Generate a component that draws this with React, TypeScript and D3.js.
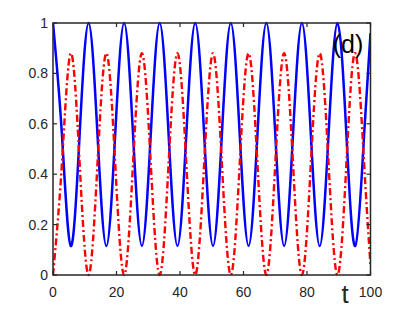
import React, { useEffect, useRef } from 'react'
import * as d3 from 'd3'

// sample times (quarter of an oscillation apart)
const times = [
  0, 2.8, 5.6, 8.4, 11.2, 14.0, 16.8, 19.6, 22.4, 25.2, 28.0, 30.8, 33.6, 36.4,
  39.2, 42.0, 44.8, 47.6, 50.4, 53.2, 56.0, 58.8, 61.6, 64.4, 67.2, 70.0, 72.8,
  75.6, 78.4, 81.2, 84.0, 86.8, 89.6, 92.4, 95.2, 98.0, 100,
]

// blue solid curve
const blueVals = [
  1, 0.56, 0.115, 0.56, 1, 0.56, 0.115, 0.56, 1, 0.56, 0.115, 0.56, 1, 0.56,
  0.115, 0.56, 1, 0.56, 0.115, 0.56, 1, 0.56, 0.115, 0.56, 1, 0.56, 0.115,
  0.56, 1, 0.56, 0.115, 0.56, 1, 0.56, 0.115, 0.56, 0.96,
]

// red dash-dot curve
const redVals = [
  0, 0.44, 0.88, 0.44, 0, 0.44, 0.88, 0.44, 0, 0.44, 0.88, 0.44, 0, 0.44,
  0.88, 0.44, 0, 0.44, 0.88, 0.44, 0, 0.44, 0.88, 0.44, 0, 0.44, 0.88,
  0.44, 0, 0.44, 0.88, 0.44, 0, 0.44, 0.88, 0.44, 0.04,
]

const xTicks = [0, 20, 40, 60, 80, 100]
const yTicks = [0, 0.2, 0.4, 0.6, 0.8, 1]

export default function App() {
  const ref = useRef<SVGSVGElement>(null)

  useEffect(() => {
    const W = 409
    const H = 309
    const margin = { top: 23, right: 38.5, bottom: 34, left: 53 }
    const width = W - margin.left - margin.right
    const height = H - margin.top - margin.bottom
    const axisColor = '#262626'
    const font = 'Liberation Sans, Arial, Helvetica, sans-serif'

    const svg = d3.select(ref.current)
    svg.selectAll('*').remove()

    const g = svg.append('g').attr('transform', `translate(${margin.left},${margin.top})`)

    const x = d3.scaleLinear().domain([0, 100]).range([0, width])
    const y = d3.scaleLinear().domain([0, 1]).range([height, 0])

    const clipId = 'plotclip'
    svg.append('defs').append('clipPath').attr('id', clipId)
      .append('rect').attr('x', 0).attr('y', -2).attr('width', width).attr('height', height + 4)

    const blue = times.map((t, i) => [t, blueVals[i]] as [number, number])
    const red = times.map((t, i) => [t, redVals[i]] as [number, number])

    const line = d3.line<[number, number]>()
      .x(d => x(d[0]))
      .y(d => y(d[1]))
      .curve(d3.curveNatural)

    const plot = g.append('g').attr('clip-path', `url(#${clipId})`)

    plot.append('path')
      .datum(blue)
      .attr('d', line)
      .attr('fill', 'none')
      .attr('stroke', '#0000ff')
      .attr('stroke-width', 2.5)

    plot.append('path')
      .datum(red)
      .attr('d', line)
      .attr('fill', 'none')
      .attr('stroke', '#ff0000')
      .attr('stroke-width', 2.4)
      .attr('stroke-dasharray', '7,3,2,3')

    // box
    g.append('rect')
      .attr('width', width)
      .attr('height', height)
      .attr('fill', 'none')
      .attr('stroke', axisColor)
      .attr('stroke-width', 1.5)

    const tl = 4
    // inward ticks on all four sides
    xTicks.forEach(t => {
      g.append('line').attr('x1', x(t)).attr('x2', x(t)).attr('y1', height).attr('y2', height - tl)
        .attr('stroke', axisColor).attr('stroke-width', 1.2)
      g.append('line').attr('x1', x(t)).attr('x2', x(t)).attr('y1', 0).attr('y2', tl)
        .attr('stroke', axisColor).attr('stroke-width', 1.2)
      g.append('text')
        .attr('x', x(t))
        .attr('y', height + 22)
        .attr('text-anchor', 'middle')
        .attr('font-family', font)
        .attr('font-size', 14)
        .attr('fill', axisColor)
        .text(d3.format('d')(t))
    })
    yTicks.forEach(t => {
      g.append('line').attr('x1', 0).attr('x2', tl).attr('y1', y(t)).attr('y2', y(t))
        .attr('stroke', axisColor).attr('stroke-width', 1.2)
      g.append('line').attr('x1', width).attr('x2', width - tl).attr('y1', y(t)).attr('y2', y(t))
        .attr('stroke', axisColor).attr('stroke-width', 1.2)
      g.append('text')
        .attr('x', -5)
        .attr('y', y(t))
        .attr('dy', '0.35em')
        .attr('text-anchor', 'end')
        .attr('font-family', font)
        .attr('font-size', 14)
        .attr('fill', axisColor)
        .text(t === 0 || t === 1 ? String(t) : d3.format('.1f')(t))
    })

    // axis label "t" and panel tag "(d)"
    svg.append('text')
      .attr('x', 345)
      .attr('y', 303)
      .attr('text-anchor', 'middle')
      .attr('font-family', font)
      .attr('font-size', 26)
      .attr('fill', axisColor)
      .text('t')

    svg.append('text')
      .attr('x', 348)
      .attr('y', 53)
      .attr('text-anchor', 'middle')
      .attr('font-family', font)
      .attr('font-size', 25)
      .attr('fill', '#000')
      .text('(d)')
  }, [])

  return (
    <svg ref={ref} width={409} height={309}
      style={{ position: 'absolute', left: 0, top: 0, background: '#fff' }} />
  )
}
